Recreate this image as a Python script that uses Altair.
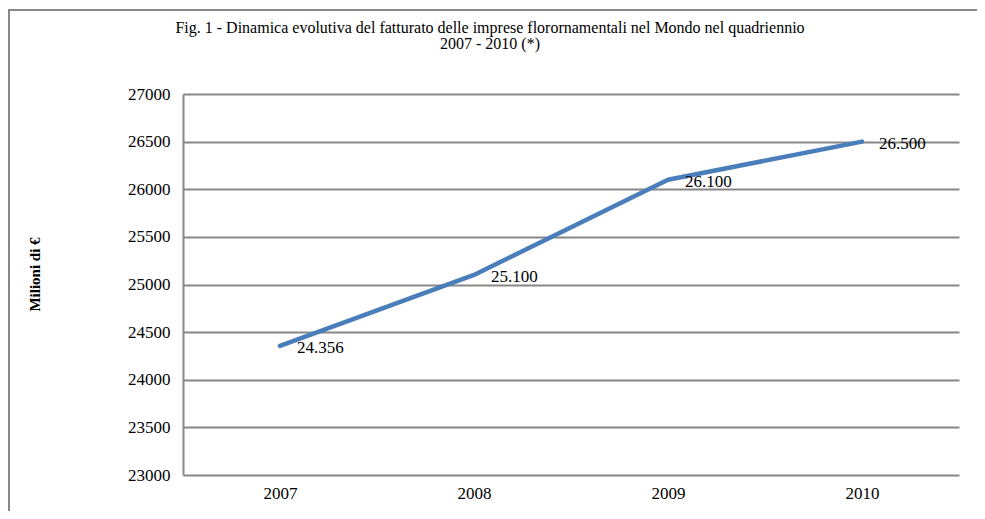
import altair as alt
import pandas as pd

years = ["2007", "2008", "2009", "2010"]
values = [24356, 25100, 26100, 26500]
labels = ["24.356", "25.100", "26.100", "26.500"]
y_ticks = [23000, 23500, 24000, 24500, 25000, 25500, 26000, 26500, 27000]

title_lines = [
    "Fig. 1 - Dinamica evolutiva del fatturato delle imprese florornamentali nel Mondo nel quadriennio",
    "2007 - 2010 (*)",
]
y_title = "Milioni di €"

df = pd.DataFrame({"anno": years, "valore": values, "etichetta": labels})

FONT = "Liberation Serif"
GRID = "#878787"
LINE = "#4A7EBB"

x_enc = alt.X("anno:N", sort=years,
              scale=alt.Scale(type="point", padding=0.5),
              axis=alt.Axis(title=None, labelAngle=0, ticks=False, domain=False,
                            grid=False, labelPadding=10, labelFontSize=17,
                            labelFont=FONT, labelColor="black"))
y_enc = alt.Y("valore:Q",
              scale=alt.Scale(domain=[23000, 27000], nice=False, zero=False),
              axis=alt.Axis(title=y_title, values=y_ticks, format="d", ticks=False,
                            domain=True, domainColor=GRID, domainWidth=2,
                            grid=True, gridColor=GRID, gridWidth=2,
                            labelPadding=13, labelFontSize=17, labelFont=FONT,
                            labelColor="black",
                            titleFont=FONT, titleFontSize=15, titleFontWeight="bold",
                            titleColor="black", titleX=-149, titleY=180,
                            titleBaseline="middle", titleAngle=-90))

base = alt.Chart(df)

line = base.mark_line(color=LINE, strokeWidth=4.5, strokeCap="round",
                      strokeJoin="round").encode(x=x_enc, y=y_enc)

text = base.mark_text(align="left", baseline="middle", dx=17, dy=2,
                      font=FONT, fontSize=17, color="black").encode(
    x=x_enc, y=y_enc, text="etichetta:N")

one = alt.Data(values=[{}])

border_top = alt.Chart(one).mark_rule(color=GRID, strokeWidth=2).encode(
    x=alt.value(-175), x2=alt.value(794), y=alt.value(-84))
border_left = alt.Chart(one).mark_rule(color=GRID, strokeWidth=2).encode(
    x=alt.value(-174), y=alt.value(-85), y2=alt.value(600))

title = alt.Chart(one).mark_text(
    font=FONT, fontSize=16, color="black", align="center", baseline="middle",
    lineHeight=16).encode(
    x=alt.value(307), y=alt.value(-66), text=alt.value(title_lines))

chart = alt.layer(border_top, border_left, line, text, title).properties(
    width=776, height=381,
    view=alt.ViewBackground(stroke="transparent", strokeWidth=0),
    autosize=alt.AutoSizeParams(type="none"),
    padding={"left": 175, "top": 86, "right": 18, "bottom": 36},
).configure_view(strokeWidth=0, stroke="transparent").configure(background="white")

chart.save("out.html", embed_options={"renderer": "svg", "actions": False})
